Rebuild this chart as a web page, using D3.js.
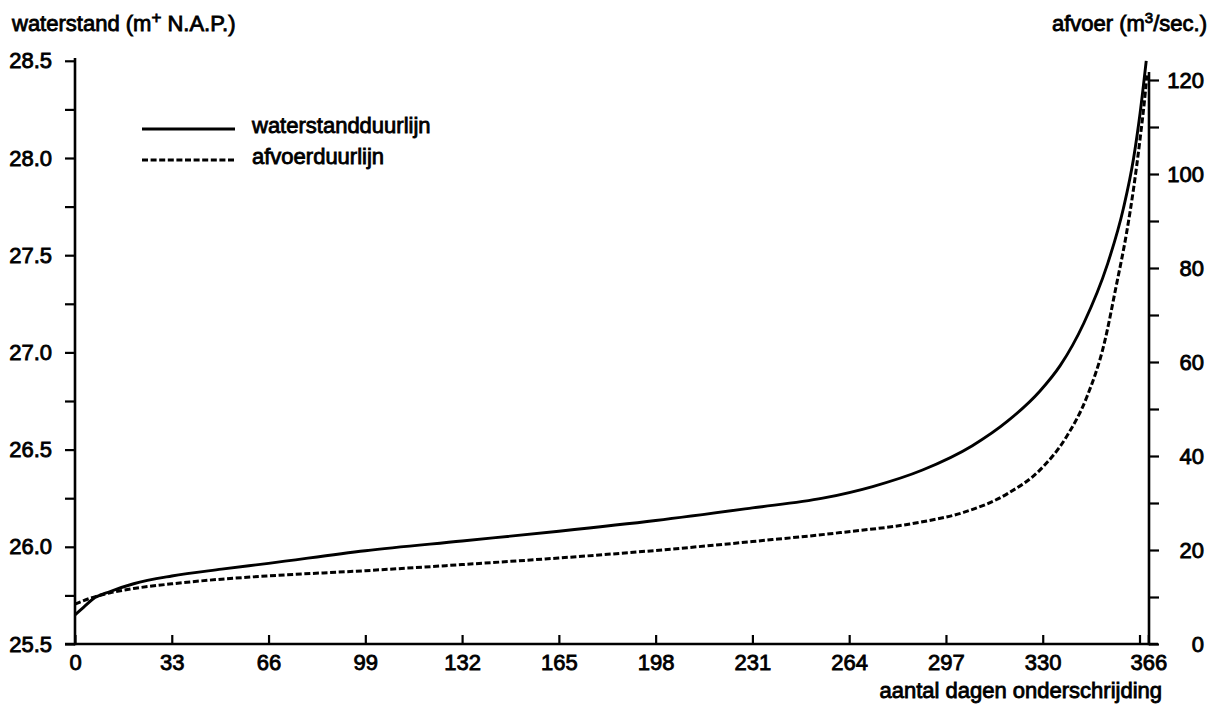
<!DOCTYPE html>
<html>
<head>
<meta charset="utf-8">
<script src="https://cdn.jsdelivr.net/npm/d3@7"></script>
<style>
  html, body { margin: 0; padding: 0; background: #fff; }
  svg { display: block; }
  text { font-family: "Liberation Sans", Arial, sans-serif; fill: #000; }
</style>
</head>
<body>
<svg id="chart" width="1220" height="713"></svg>
<script>
// ---- data ----
const daysWaterstand = [0, 3, 6, 12, 20, 33, 50, 66, 99, 132, 165, 198, 231, 255, 272, 289, 306, 318, 329, 336, 344, 352, 357.5, 361, 363.2, 365.3];
const waterstand     = [25.65, 25.69, 25.73, 25.77, 25.81, 25.85, 25.885, 25.915, 25.98, 26.03, 26.08, 26.135, 26.2, 26.25, 26.31, 26.395, 26.52, 26.646, 26.8, 26.933, 27.15, 27.45, 27.74, 28.0, 28.23, 28.5];

const daysAfvoer = [0, 5, 12, 20, 33, 50, 66, 99, 132, 165, 198, 231, 261, 289, 303, 318, 329, 338, 345, 351, 355, 358.6, 361, 363.2, 365, 365.5];
const afvoer     = [8.5, 9.7, 10.9, 11.8, 12.8, 13.8, 14.5, 15.6, 16.9, 18.3, 19.9, 21.8, 23.7, 26.0, 28.0, 32.0, 37.0, 44.0, 52.5, 64.0, 76.0, 87.5, 97.0, 107.5, 117.5, 121];

const xTickValues   = [0, 33, 66, 99, 132, 165, 198, 231, 264, 297, 330, 363, 366];
const xTickLabels   = ["0", "33", "66", "99", "132", "165", "198", "231", "264", "297", "330", "", "366"];
const leftTickValues  = [25.5, 25.75, 26.0, 26.25, 26.5, 26.75, 27.0, 27.25, 27.5, 27.75, 28.0, 28.25, 28.5];
const leftTickLabels  = ["25.5", "", "26.0", "", "26.5", "", "27.0", "", "27.5", "", "28.0", "", "28.5"];
const rightTickValues = [0, 10, 20, 30, 40, 50, 60, 70, 80, 90, 100, 110, 120];
const rightTickLabels = ["0", "", "20", "", "40", "", "60", "", "80", "", "100", "", "120"];

const legendLabels = ["waterstandduurlijn", "afvoerduurlijn"];

// ---- layout ----
const svg = d3.select("#chart");
const FS = 22;
const TS = 0.85; // text stroke to mimic the heavy scanned type
const left = 75, right = 1149, bottom = 644;

const x  = d3.scaleLinear().domain([0, 366]).range([left, 1148.3]);
const yL = d3.scaleLinear().domain([25.5, 28.5]).range([bottom, 60.8]);
const yR = d3.scaleLinear().domain([0, 120]).range([bottom, 80]);

function styleAxis(g) {
  g.select(".domain").remove();
  g.selectAll(".tick line").attr("stroke", "#000").attr("stroke-width", 2.2);
  g.selectAll(".tick text")
    .attr("font-size", FS)
    .attr("stroke", "#000").attr("stroke-width", TS)
    .attr("fill", "#000");
}

// left axis
const gL = svg.append("g").attr("transform", `translate(${left},0)`)
  .call(d3.axisLeft(yL).tickValues(leftTickValues)
    .tickFormat((d, i) => leftTickLabels[i]).tickSize(10).tickPadding(13));
styleAxis(gL);

// right axis
const gR = svg.append("g").attr("transform", `translate(${right},0)`)
  .call(d3.axisRight(yR).tickValues(rightTickValues)
    .tickFormat((d, i) => rightTickLabels[i]).tickSize(10).tickPadding(0));
styleAxis(gR);
gR.selectAll(".tick text").attr("text-anchor", "end").attr("x", 55);

// bottom axis (ticks inward)
const gB = svg.append("g").attr("transform", `translate(0,${bottom})`)
  .call(d3.axisBottom(x).tickValues(xTickValues)
    .tickFormat((d, i) => xTickLabels[i]).tickSize(-9).tickPadding(10));
styleAxis(gB);

// axis lines
svg.append("line").attr("x1", left).attr("x2", left).attr("y1", 58).attr("y2", bottom + 1.2)
  .attr("stroke", "#000").attr("stroke-width", 2.6);
svg.append("line").attr("x1", right).attr("x2", right).attr("y1", 72).attr("y2", bottom + 1.2)
  .attr("stroke", "#000").attr("stroke-width", 2.6);
svg.append("line").attr("x1", left - 10).attr("x2", 1158).attr("y1", bottom).attr("y2", bottom)
  .attr("stroke", "#000").attr("stroke-width", 2.6);

// curves
const lineW = d3.line().x(d => x(d[0])).y(d => yL(d[1])).curve(d3.curveMonotoneX);
const lineQ = d3.line().x(d => x(d[0])).y(d => yR(d[1])).curve(d3.curveMonotoneX);

svg.append("path")
  .datum(d3.zip(daysAfvoer, afvoer))
  .attr("d", lineQ).attr("fill", "none").attr("stroke", "#000")
  .attr("stroke-width", 3).attr("stroke-dasharray", "6,2.6");

svg.append("path")
  .datum(d3.zip(daysWaterstand, waterstand))
  .attr("d", lineW).attr("fill", "none").attr("stroke", "#000")
  .attr("stroke-width", 2.9);

// titles
function addText(t, xp, yp, anchor) {
  return svg.append("text").attr("x", xp).attr("y", yp).attr("text-anchor", anchor)
    .attr("font-size", FS).attr("stroke", "#000").attr("stroke-width", TS).text(t);
}
const tL = svg.append("text").attr("x", 12).attr("y", 31).attr("font-size", FS)
  .attr("stroke", "#000").attr("stroke-width", TS);
tL.append("tspan").text("waterstand (m");
tL.append("tspan").attr("font-size", 17).attr("dy", -8).text("+");
tL.append("tspan").attr("dy", 8).text(" N.A.P.)");

const tR = svg.append("text").attr("x", 1207).attr("y", 31).attr("text-anchor", "end")
  .attr("font-size", FS).attr("stroke", "#000").attr("stroke-width", TS);
tR.append("tspan").text("afvoer (m");
tR.append("tspan").attr("font-size", 15).attr("dy", -8).text("3");
tR.append("tspan").attr("dy", 8).text("/sec.)");

addText("aantal dagen onderschrijding", 1162, 698, "end");

// legend
const legendY = [129, 160];
const legendDash = [null, "6,2.6"];
legendLabels.forEach((lab, i) => {
  svg.append("line").attr("x1", 142).attr("x2", 235).attr("y1", legendY[i]).attr("y2", legendY[i])
    .attr("stroke", "#000").attr("stroke-width", 2.9)
    .attr("stroke-dasharray", legendDash[i]);
  addText(lab, 252, legendY[i] + 4, "start");
});
</script>
</body>
</html>
